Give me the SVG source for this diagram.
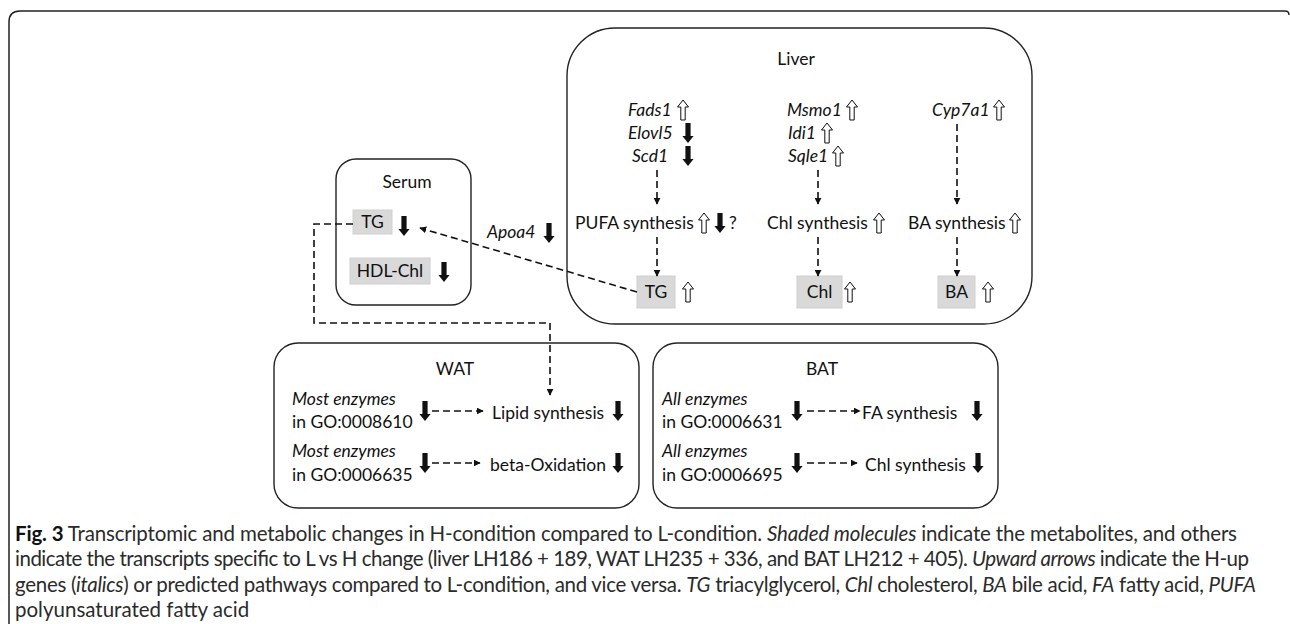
<svg xmlns="http://www.w3.org/2000/svg" width="1290" height="624" viewBox="0 0 1290 624">
<style>
.box{fill:#fff;stroke:#222;stroke-width:1.4}
.mol{fill:#d9d9d9;stroke:#cfcfcf;stroke-width:1}
.t{font-family:Lato,"Liberation Sans",sans-serif;font-size:17.5px;fill:#111}
.i{font-style:italic}
.c{text-anchor:middle}
.cap{font-family:Lato,"Liberation Sans",sans-serif;font-size:20.5px;fill:#2b2b2b}
.dash{fill:none;stroke:#111;stroke-width:1.6;stroke-dasharray:7 4}
.up{fill:#fff;stroke:#111;stroke-width:1}
.dn{fill:#111}
</style>
<defs>
<marker id="ah" viewBox="0 0 10 10" refX="9" refY="5" markerWidth="7" markerHeight="7" markerUnits="userSpaceOnUse" orient="auto"><path d="M0,0 L10,5 L0,10 Z" fill="#111"/></marker>
<path id="uparr" class="up" d="M0,-10 L5.5,-3 L2.2,-3 L2.2,10 L-2.2,10 L-2.2,-3 L-5.5,-3 Z"/>
<path id="dnarr" class="dn" d="M-2.6,-10 L2.6,-10 L2.6,3 L5.6,3 L0,10 L-5.6,3 L-2.6,3 Z"/>
</defs>
<rect width="1290" height="624" fill="#fff"/>
<path d="M9,624 V22 Q9,11 20,11 H1285 Q1289,11 1289,15" fill="none" stroke="#222" stroke-width="1.5"/>

<g id="liver">
<rect class="box" x="567" y="28" width="465" height="296" rx="48" ry="48"/>
<text class="t c" x="796" y="65">Liver</text>
<text class="t i" x="628" y="116">Fads1</text><use href="#uparr" x="683" y="110"/>
<text class="t i" x="628" y="139">Elovl5</text><use href="#dnarr" x="688" y="133"/>
<text class="t i" x="632" y="162">Scd1</text><use href="#dnarr" x="688" y="156"/>
<text class="t" x="575" y="229">PUFA synthesis</text><use href="#uparr" x="704" y="223"/><use href="#dnarr" x="720" y="223"/><text class="t" x="729" y="229">?</text>
<rect class="mol" x="637" y="276" width="38" height="32"/><text class="t c" x="656" y="298">TG</text><use href="#uparr" x="688" y="292"/>
<text class="t i" x="787" y="116">Msmo1</text><use href="#uparr" x="852" y="110"/>
<text class="t i" x="788" y="139">Idi1</text><use href="#uparr" x="827" y="133"/>
<text class="t i" x="788" y="162">Sqle1</text><use href="#uparr" x="838" y="156"/>
<text class="t" x="767" y="229">Chl synthesis</text><use href="#uparr" x="879" y="223"/>
<rect class="mol" x="797" y="276" width="45" height="32"/><text class="t c" x="819.5" y="298">Chl</text><use href="#uparr" x="850" y="292"/>
<text class="t i" x="932" y="116">Cyp7a1</text><use href="#uparr" x="999" y="110"/>
<text class="t" x="908" y="229">BA synthesis</text><use href="#uparr" x="1015" y="223"/>
<rect class="mol" x="938" y="276" width="37" height="32"/><text class="t c" x="956.5" y="298">BA</text><use href="#uparr" x="988" y="292"/>
</g>

<g id="serum">
<rect class="box" x="336" y="159" width="135" height="146" rx="20" ry="20"/>
<text class="t c" x="407" y="188">Serum</text>
<rect class="mol" x="353" y="210" width="39" height="24"/><text class="t c" x="372.5" y="228">TG</text><use href="#dnarr" x="404" y="226"/>
<rect class="mol" x="350" y="258" width="80" height="26"/><text class="t c" x="390" y="277">HDL-Chl</text><use href="#dnarr" x="444" y="272"/>
</g>

<g id="apoa4">
<text class="t i" x="487" y="238">Apoa4</text><use href="#dnarr" x="549" y="233"/>
</g>

<g id="wat">
<rect class="box" x="274" y="343" width="365" height="165" rx="24" ry="24"/>
<text class="t c" x="455" y="375">WAT</text>
<text class="t i" x="292" y="405">Most enzymes</text><text class="t" x="292" y="428">in GO:0008610</text><use href="#dnarr" x="425" y="411"/>
<text class="t" x="492" y="419">Lipid synthesis</text><use href="#dnarr" x="618" y="411"/>
<text class="t i" x="292" y="457">Most enzymes</text><text class="t" x="292" y="481">in GO:0006635</text><use href="#dnarr" x="425" y="463"/>
<text class="t" x="490" y="471">beta-Oxidation</text><use href="#dnarr" x="618" y="463"/>
</g>

<g id="bat">
<rect class="box" x="653" y="343" width="345" height="165" rx="24" ry="24"/>
<text class="t c" x="822" y="375">BAT</text>
<text class="t i" x="662" y="405">All enzymes</text><text class="t" x="662" y="428">in GO:0006631</text><use href="#dnarr" x="797" y="411"/>
<text class="t" x="862" y="419">FA synthesis</text><use href="#dnarr" x="977" y="411"/>
<text class="t i" x="662" y="457">All enzymes</text><text class="t" x="662" y="481">in GO:0006695</text><use href="#dnarr" x="797" y="463"/>
<text class="t" x="865" y="471">Chl synthesis</text><use href="#dnarr" x="978" y="463"/>
</g>

<g id="connectors">
<path class="dash" d="M657,170 V204" marker-end="url(#ah)"/>
<path class="dash" d="M657,237 V276" marker-end="url(#ah)"/>
<path class="dash" d="M818,170 V204" marker-end="url(#ah)"/>
<path class="dash" d="M818,237 V276" marker-end="url(#ah)"/>
<path class="dash" d="M957,124 V204" marker-end="url(#ah)"/>
<path class="dash" d="M957,237 V276" marker-end="url(#ah)"/>
<path class="dash" d="M637,292 L420,228" marker-end="url(#ah)"/>
<path class="dash" d="M353,224 H314 V323 H550 V395" marker-end="url(#ah)"/>
<path class="dash" d="M432,411 H483" marker-end="url(#ah)"/>
<path class="dash" d="M432,463 H480" marker-end="url(#ah)"/>
<path class="dash" d="M807,411 H860" marker-end="url(#ah)"/>
<path class="dash" d="M807,463 H857" marker-end="url(#ah)"/>
</g>

<g id="caption">
<text class="cap" x="15" y="541" textLength="1222" lengthAdjust="spacing"><tspan font-weight="bold" fill="#111">Fig. 3</tspan> Transcriptomic and metabolic changes in H-condition compared to L-condition. <tspan class="i">Shaded molecules</tspan> indicate the metabolites, and others</text>
<text class="cap" x="15" y="566" textLength="1234" lengthAdjust="spacing">indicate the transcripts specific to L vs H change (liver LH186 + 189, WAT LH235 + 336, and BAT LH212 + 405). <tspan class="i">Upward arrows</tspan> indicate the H-up</text>
<text class="cap" x="15" y="592" textLength="1241" lengthAdjust="spacing">genes (<tspan class="i">italics</tspan>) or predicted pathways compared to L-condition, and vice versa. <tspan class="i">TG</tspan> triacylglycerol, <tspan class="i">Chl</tspan> cholesterol, <tspan class="i">BA</tspan> bile acid, <tspan class="i">FA</tspan> fatty acid, <tspan class="i">PUFA</tspan></text>
<text class="cap" x="15" y="617">polyunsaturated fatty acid</text>
</g>
</svg>
